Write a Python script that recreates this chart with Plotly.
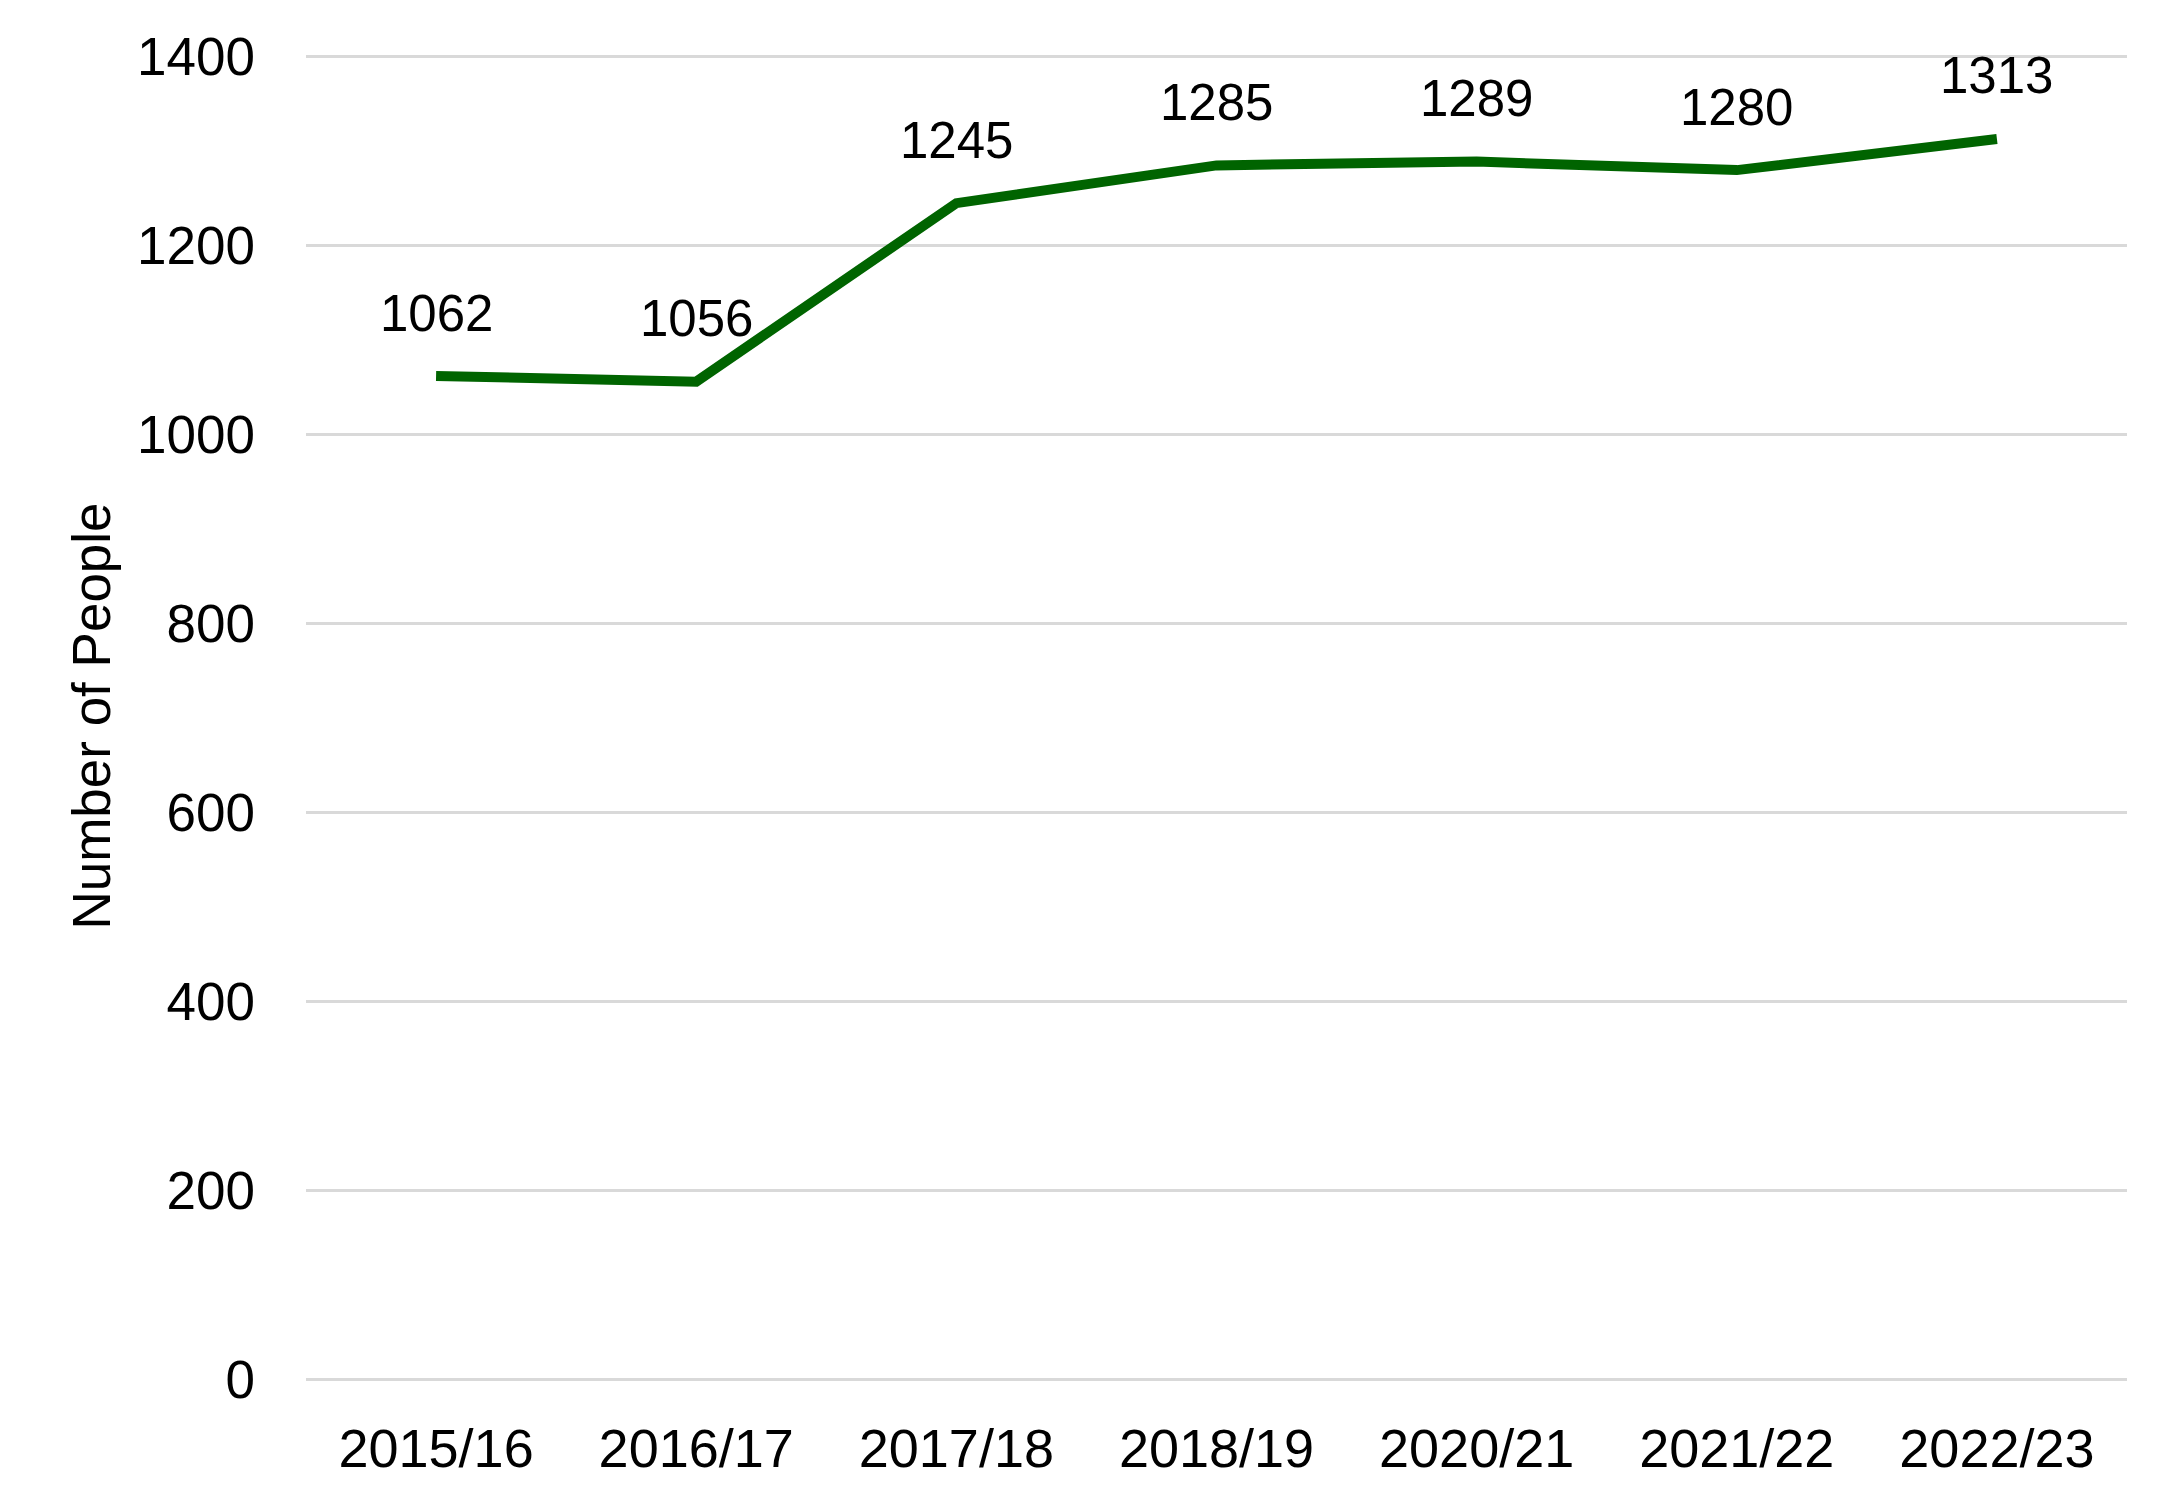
import plotly.graph_objects as go

years = ["2015/16", "2016/17", "2017/18", "2018/19", "2020/21", "2021/22", "2022/23"]
people = [1062, 1056, 1245, 1285, 1289, 1280, 1313]
y_ticks = [0, 200, 400, 600, 800, 1000, 1200, 1400]

FONT = "Liberation Sans, Arial, sans-serif"

fig = go.Figure()
fig.add_trace(go.Scatter(
    x=years, y=people, mode="lines",
    line=dict(color="#006400", width=10),
    hoverinfo="skip", showlegend=False,
))

for x, y in zip(years, people):
    fig.add_annotation(
        x=x, y=y, text=str(y), showarrow=False,
        yanchor="middle", xanchor="center", yshift=63,
        font=dict(family=FONT, size=51, color="#000000"),
    )

fig.update_layout(
    width=2178, height=1512,
    margin=dict(l=298, r=59, t=45, b=141),
    paper_bgcolor="white", plot_bgcolor="white",
    font=dict(family=FONT, size=52, color="#000000"),
)
fig.update_xaxes(
    type="category", range=[-0.5, 6.5],
    showgrid=False, showline=False, zeroline=False,
    ticks="", ticklabelstandoff=33,
    tickfont=dict(family=FONT, size=54, color="#000000"),
)
fig.update_yaxes(
    range=[0, 1404], tickvals=y_ticks,
    showgrid=True, gridcolor="#d9d9d9", gridwidth=3,
    zeroline=True, zerolinecolor="#d9d9d9", zerolinewidth=3,
    showline=False, ticks="", ticklabelstandoff=50,
    tickfont=dict(family=FONT, size=53, color="#000000"),
    title=dict(text="Number of People", standoff=9,
               font=dict(family=FONT, size=53, color="#000000")),
)

fig.write_html("out.html")
